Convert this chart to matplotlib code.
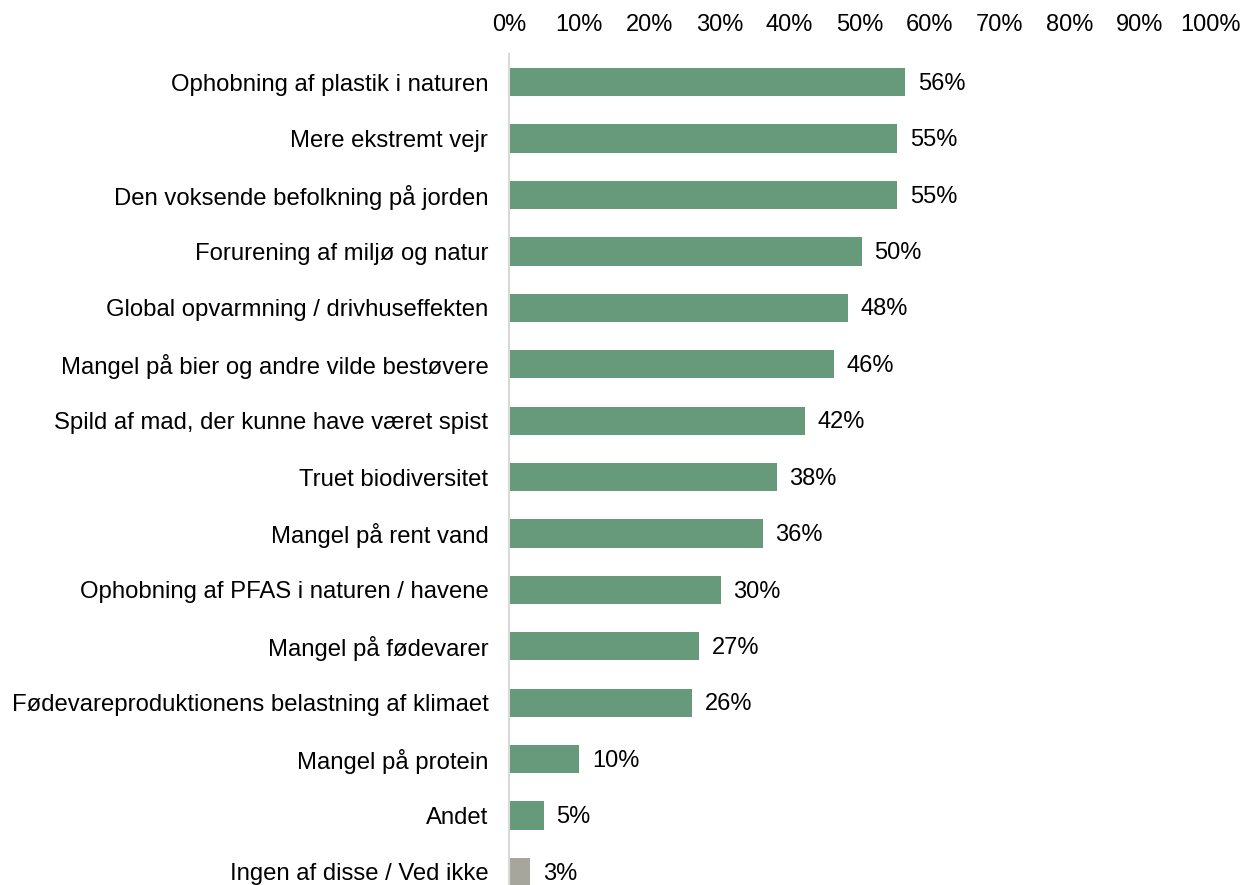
import matplotlib.pyplot as plt
from matplotlib.ticker import PercentFormatter

plt.rcParams['font.family'] = ['Liberation Sans', 'DejaVu Sans']

categories = [
    'Ophobning af plastik i naturen',
    'Mere ekstremt vejr',
    'Den voksende befolkning på jorden',
    'Forurening af miljø og natur',
    'Global opvarmning / drivhuseffekten',
    'Mangel på bier og andre vilde bestøvere',
    'Spild af mad, der kunne have været spist',
    'Truet biodiversitet',
    'Mangel på rent vand',
    'Ophobning af PFAS i naturen / havene',
    'Mangel på fødevarer',
    'Fødevareproduktionens belastning af klimaet',
    'Mangel på protein',
    'Andet',
    'Ingen af disse / Ved ikke',
]
values = [56.5, 55.4, 55.4, 50.3, 48.3, 46.3, 42.2, 38.2, 36.2, 30.2, 27.1, 26.1, 10.0, 4.9, 3.0]
green = '#669a7b'
grey = '#a6a69c'
colors = [green] * (len(values) - 1) + [grey]

fig = plt.figure(figsize=(12.48, 8.85), dpi=100)
ax = fig.add_axes([0.408, -0.017, 0.5616, 0.956])

y = list(range(len(values)))
ax.barh(y, values, height=0.5, color=colors)
for yi, v in zip(y, values):
    ax.text(v + 1.8, yi + 0.03, f'{v:.0f}%', va='center', ha='left', fontsize=17, color='#000000')

ax.set_xlim(0, 100)
ax.set_ylim(len(values) - 0.5, -0.5)
ax.set_yticks(y)
ax.set_yticklabels(categories, fontsize=17.2)
ax.set_xticks(range(0, 101, 10))
ax.xaxis.set_major_formatter(PercentFormatter(decimals=0))
ax.xaxis.tick_top()
ax.tick_params(axis='x', length=0, labelsize=17, pad=13)
ax.tick_params(axis='y', length=0, pad=15)
for s in ['top', 'right', 'bottom']:
    ax.spines[s].set_visible(False)
ax.spines['left'].set_color('#d9d9d9')
ax.spines['left'].set_linewidth(1.5)

fig.savefig('out.png', dpi=100)
